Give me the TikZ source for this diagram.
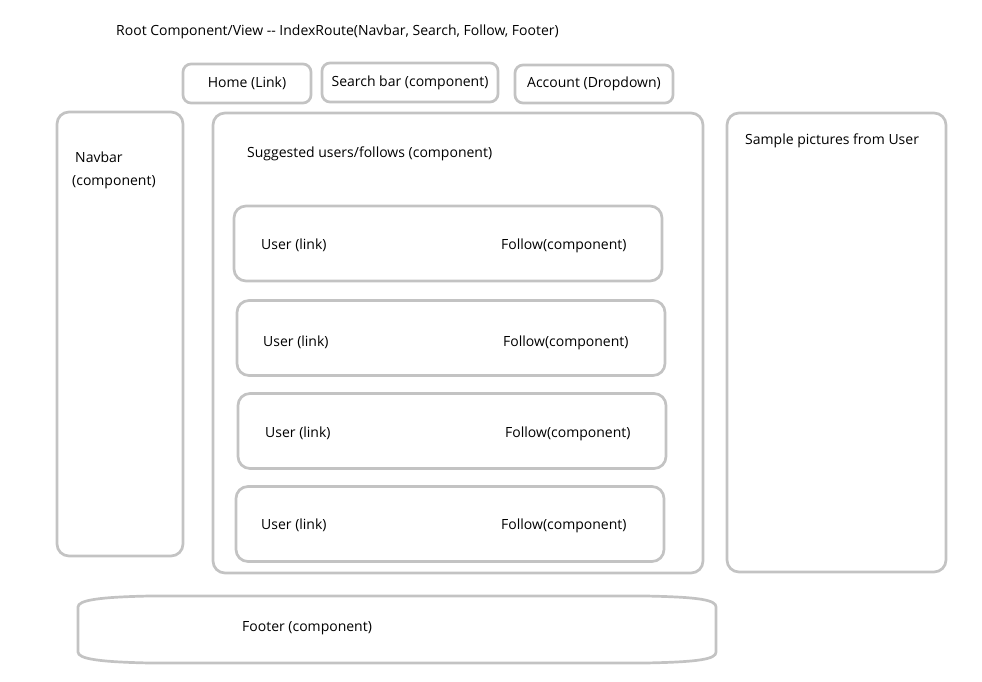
\documentclass[tikz,border=0pt]{standalone}
\usepackage{fontspec}
\setmainfont{Open Sans}
\usepackage{tikz}
\usetikzlibrary{positioning, calc}
\definecolor{boxgray}{HTML}{C3C3C3}
\tikzset{
    box/.style={draw=boxgray, line width=2.7pt, rounded corners=12pt, inner sep=0pt},
    topbox/.style={box, rounded corners=8pt},
    lbl/.style={anchor=west, inner sep=0pt, yshift=-1.5pt, font=\fontsize{14}{16}\selectfont}
}
\begin{document}
\begin{tikzpicture}[x=1pt, y=-1pt]
    \useasboundingbox (0,0) rectangle (982,682);

    % title
    \node[lbl] (title) at (116,30) {Root Component/View -{}- IndexRoute(Navbar, Search, Follow, Footer)};

    % top bar
    \node[topbox, minimum width=128pt, minimum height=39pt, font=\fontsize{14}{16}\selectfont] (home) at (247,83.5) {Home (Link)};
    \node[topbox, minimum width=176pt, minimum height=39pt, font=\fontsize{14}{16}\selectfont] (search) at (410,82.5) {Search bar (component)};
    \node[topbox, minimum width=158pt, minimum height=38pt, font=\fontsize{14}{16}\selectfont] (account) at (594,84) {Account (Dropdown)};

    % columns
    \node[box, minimum width=126pt, minimum height=444pt] (navbar) at (120,334) {};
    \node[lbl] (navbarA) at (75,156) {Navbar};
    \node[lbl] (navbarB) at (72,181) {(component)};

    \node[box, minimum width=490pt, minimum height=460pt] (suggested) at (458,343) {};
    \node[lbl] (suggestedlbl) at (247,152) {Suggested users/follows (component)};

    \node[box, minimum width=219pt, minimum height=459pt] (sample) at (836.5,342.5) {};
    \node[lbl] (samplelbl) at (745,139) {Sample pictures from User};

    % user rows
    \foreach \i/\cx/\cy/\ty/\ux/\fx in {
        1/448/243.5/244/261/501,
        2/451/338/341/263/503,
        3/452/431/432/265/505,
        4/450/524/524/261/501}{

        \node[box, minimum width=428pt, minimum height=75pt] (row\i) at (\cx,\cy) {};
        \node[lbl] (user\i) at (\ux,\ty) {User (link)};
        \node[lbl] (follow\i) at (\fx,\ty) {Follow(component)};
    }

    % footer
    \draw[boxgray, line width=2.7pt]
        (78,652) -- (78,607) .. controls (78,600) and (100,597) .. (150,596)
        -- (645,596) .. controls (700,597) and (716,600) .. (716,607)
        -- (716,652) .. controls (716,659) and (700,662) .. (645,663)
        -- (150,663) .. controls (100,662) and (78,659) .. (78,652) -- cycle;
    \node[lbl] (footer) at (242,627) {Footer (component)};
\end{tikzpicture}
\end{document}
